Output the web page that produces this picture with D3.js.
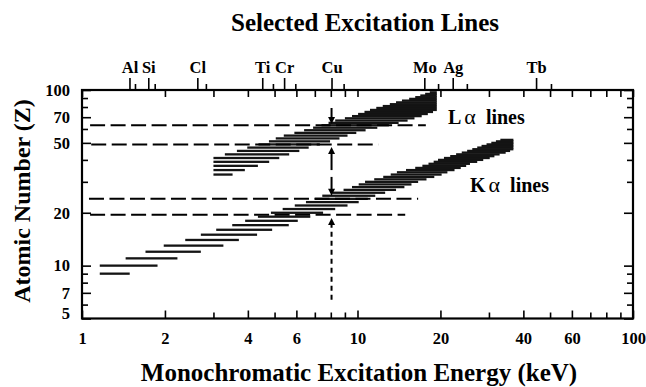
<!DOCTYPE html>
<html>
<head>
<meta charset="utf-8">
<script src="https://cdn.jsdelivr.net/npm/d3@7"></script>
<style>
  body { margin: 0; background: #fff; }
  svg text { font-family: "Liberation Serif", "Times New Roman", serif; font-weight: bold; fill: #000; }
  .axis text { font-size: 16.5px; }
</style>
</head>
<body>
<div id="chart"></div>
<script>
// K alpha excitation ranges, one row per atomic number
const kZ = [9, 10, 11, 12, 13, 14, 15, 16, 17, 18, 19, 20, 21, 22, 23, 24, 25, 26, 27, 28, 29, 30,
  31, 32, 33, 34, 35, 36, 37, 38, 39, 40, 41, 42, 43, 44, 45, 46, 47, 48, 49, 50, 51, 52];
const kStart = [1.16, 1.16, 1.44, 1.70, 1.98, 2.37, 2.70, 3.07, 3.51, 3.91, 4.35, 4.85, 5.35, 5.92, 6.5, 7.0,
  7.45, 8.1, 8.9, 9.55, 10.1, 10.65, 11.5, 12.4, 13.2, 13.9, 15.0, 16.2, 17.2, 18.1, 18.9, 19.6, 20.6,
  21.7, 22.8, 23.9, 25.0, 26.1, 27.2, 28.2, 29.4, 30.6, 31.8, 33.0];
const kEnd = [1.49, 1.88, 2.22, 2.70, 3.26, 3.71, 4.32, 4.90, 5.63, 6.07, 6.74, 7.5, 8.3, 9.2, 10.1, 10.9,
  11.6, 12.6, 13.8, 14.8, 15.7, 16.6, 17.8, 19.0, 20.2, 21.2, 22.5, 23.7, 24.8, 25.6, 27.2, 28.6, 30.2,
  31.4, 32.8, 34.5, 35.8, 36.8, 36.8, 36.8, 36.8, 36.8, 36.8, 36.8];

// L alpha excitation ranges (odd Z)
const lZ = [33, 35, 37, 39, 41, 43, 45, 47, 49, 51, 53, 55, 57, 59, 61, 63, 65, 67, 69, 71, 73, 75, 77,
  79, 81, 83, 85, 87, 89, 91, 93, 95, 97];
const lStart = [3.0, 3.0, 3.0, 3.0, 3.0, 3.3, 3.65, 3.98, 4.37, 4.77, 5.05, 5.4, 5.9, 6.4, 6.9, 7.4, 7.85,
  8.3, 9.0, 9.55, 10.05, 10.6, 11.1, 11.7, 12.35, 13.1, 13.8, 14.5, 15.4, 16.2, 16.9, 17.6, 18.3];
const lEnd = [3.52, 3.9, 4.35, 4.78, 5.2, 5.65, 6.15, 6.65, 7.3, 7.95, 8.6, 9.2, 9.9, 10.7, 11.8, 13.0,
  14.1, 15.2, 16.1, 17.1, 18.0, 18.8, 19.4, 19.4, 19.4, 19.4, 19.4, 19.4, 19.4, 19.4, 19.4, 19.4, 19.4];

// selected excitation lines (top axis)
const elements = ["Al", "Si", "Cl", "Ti", "Cr", "Cu", "Mo", "Ag", "Tb"];
const kAlpha = [1.487, 1.740, 2.622, 4.511, 5.415, 8.048, 17.48, 22.16, 44.48];
const kBeta = [1.557, 1.836, 2.816, 4.932, 5.947, 8.905, 19.61, 24.94, 50.38];

// dashed guide lines
const guideZ = [63, 49, 24, 19.5];
const guideFrom = [1.07, 1.08, 1.06, 1.07];
const guideTo = [17.7, 11.9, 16.6, 14.9];

// arrows at Cu K alpha
const arrowE = 8.05;
const arrowFromZ = [79, 35, 32, 6.4];
const arrowToZ = [64, 47.4, 25, 18.7];
const arrowDashed = [false, false, false, true];

const xLabeled = [1, 2, 4, 6, 10, 20, 40, 60, 100];
const xMinor = [3, 5, 7, 8, 9, 30, 50, 70, 80, 90];
const yLabeled = [5, 7, 10, 20, 50, 70, 100];
const yMinor = [6, 8, 9, 30, 40, 60, 80, 90];

const width = 646, height = 387;
const plotLeft = 82, plotRight = 633, plotTop = 90, plotBottom = 318.5;

const svg = d3.select("#chart").append("svg")
  .attr("width", width)
  .attr("height", height);

const x = d3.scaleLog().domain([1, 100]).range([plotLeft, plotRight]);
const y = d3.scaleLog().domain([5, 100]).range([plotBottom, plotTop]);

// bars
function drawBars(zs, starts, ends) {
  svg.append("g").selectAll("rect")
    .data(zs)
    .enter()
    .append("rect")
    .attr("x", (d, i) => x(starts[i]))
    .attr("y", d => y(d) - 1.15)
    .attr("width", (d, i) => x(ends[i]) - x(starts[i]))
    .attr("height", 2.3)
    .attr("fill", "#141414");
}
drawBars(kZ, kStart, kEnd);
drawBars(lZ, lStart, lEnd);

// dashed guides
svg.append("g").selectAll("line")
  .data(guideZ)
  .enter()
  .append("line")
  .attr("x1", (d, i) => x(guideFrom[i]))
  .attr("x2", (d, i) => x(guideTo[i]))
  .attr("y1", d => y(d))
  .attr("y2", d => y(d))
  .attr("stroke", "#000")
  .attr("stroke-width", 2)
  .attr("stroke-dasharray", "15,5.5");

// arrows
const arrows = svg.append("g");
arrowFromZ.forEach((z0, i) => {
  const ax = x(arrowE);
  const y0 = y(z0), y1 = y(arrowToZ[i]);
  const dir = y1 > y0 ? 1 : -1;
  arrows.append("line")
    .attr("x1", ax).attr("x2", ax)
    .attr("y1", y0).attr("y2", y1 - dir * 5)
    .attr("stroke", "#000")
    .attr("stroke-width", 2)
    .attr("stroke-dasharray", arrowDashed[i] ? "5,4" : null);
  arrows.append("path")
    .attr("d", `M${ax - 3.5},${y1 - dir * 7}L${ax + 3.5},${y1 - dir * 7}L${ax},${y1}Z`)
    .attr("fill", "#000");
});

// axes
const axisG = svg.append("g");

function addAxis(transform, axis) {
  return axisG.append("g")
    .attr("class", "axis")
    .attr("transform", transform)
    .call(axis);
}

addAxis(`translate(0,${plotBottom})`,
  d3.axisBottom(x).tickValues(xLabeled).tickSize(-8).tickPadding(14).tickFormat(d3.format("d")));
addAxis(`translate(0,${plotBottom})`,
  d3.axisBottom(x).tickValues(xMinor).tickSize(-6).tickFormat(""));

addAxis(`translate(0,${plotTop})`,
  d3.axisTop(x).tickValues(xLabeled.concat(xMinor)).tickSize(-7).tickFormat(""));
addAxis(`translate(0,${plotTop})`,
  d3.axisTop(x).tickValues(kAlpha).tickSize(12).tickPadding(5).tickFormat((d, i) => elements[i]));
addAxis(`translate(0,${plotTop})`,
  d3.axisTop(x).tickValues(kBeta).tickSize(6).tickFormat(""));

const yAxisL = addAxis(`translate(${plotLeft},0)`,
  d3.axisLeft(y).tickValues(yLabeled).tickSize(-9).tickPadding(12).tickFormat(d3.format("d")));
yAxisL.selectAll("text").filter(d => d === 5).attr("y", -5);
addAxis(`translate(${plotLeft},0)`,
  d3.axisLeft(y).tickValues(yMinor).tickSize(-6).tickFormat(""));
addAxis(`translate(${plotRight},0)`,
  d3.axisRight(y).tickValues(yLabeled).tickSize(-9).tickFormat(""));
addAxis(`translate(${plotRight},0)`,
  d3.axisRight(y).tickValues(yMinor).tickSize(-6).tickFormat(""));

axisG.selectAll(".domain").remove();
axisG.selectAll(".tick line").attr("stroke", "#000").attr("stroke-width", 1.6);

svg.append("rect")
  .attr("x", plotLeft).attr("y", plotTop)
  .attr("width", plotRight - plotLeft).attr("height", plotBottom - plotTop)
  .attr("fill", "none")
  .attr("stroke", "#000")
  .attr("stroke-width", 2.2);

// labels
svg.append("text")
  .attr("x", 365).attr("y", 31)
  .attr("text-anchor", "middle")
  .attr("font-size", 25)
  .text("Selected Excitation Lines");

svg.append("text")
  .attr("x", 359).attr("y", 381)
  .attr("text-anchor", "middle")
  .attr("font-size", 25)
  .text("Monochromatic Excitation Energy (keV)");

svg.append("text")
  .attr("transform", "translate(30,201) rotate(-90)")
  .attr("text-anchor", "middle")
  .attr("font-size", 24)
  .text("Atomic Number (Z)");

const lab = svg.append("text").attr("x", 448).attr("y", 124).attr("font-size", 20);
lab.append("tspan").text("L");
lab.append("tspan").attr("font-weight", "normal").attr("font-size", 22).attr("dx", 3).text("α");
lab.append("tspan").attr("dx", 10).text("lines");

const kab = svg.append("text").attr("x", 470).attr("y", 192).attr("font-size", 20);
kab.append("tspan").text("K");
kab.append("tspan").attr("font-weight", "normal").attr("font-size", 22).attr("dx", 3).text("α");
kab.append("tspan").attr("dx", 10).text("lines");
</script>
</body>
</html>
